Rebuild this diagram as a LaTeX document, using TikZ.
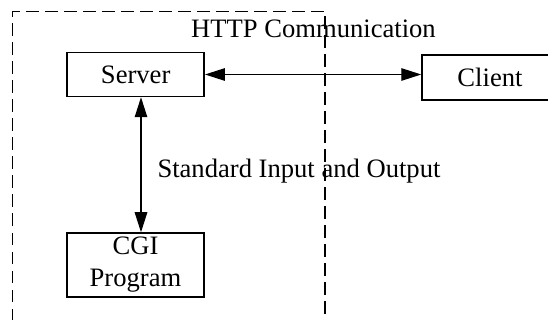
\documentclass[tikz,border=0pt]{standalone}
\usepackage{fontspec}
\setmainfont{Liberation Serif}
\usetikzlibrary{arrows.meta}
\tikzset{
  box/.style={draw, line width=1.5pt, inner sep=0pt, minimum width=137pt, align=center},
  zone/.style={draw, line width=1.5pt, dash pattern=on 12.5pt off 6.5pt},
  link/.style={line width=1.3pt, {Triangle[length=20pt,width=12.5pt]}-{Triangle[length=20pt,width=12.5pt]}},
  lbl/.style={inner sep=0pt, anchor=base west}
}
\begin{document}
\begin{tikzpicture}[x=1pt, y=-1pt, font=\fontsize{26.6}{32}\selectfont]
  \useasboundingbox (0,0) rectangle (548,320);
  \clip (0,0) rectangle (548,320);

  % web server zone (open towards the bottom)
  \draw[zone] (12.7,340) -- (12.7,11.3) -- (325,11.3) -- (325,340);

  % components
  \node[box, minimum height=44pt] (srv) at (135.7,74.5) {Server};
  \node[box, minimum width=136pt, minimum height=45pt] (cli) at (490,77.5) {Client};
  \node[box, minimum height=64pt] (cgi) at (135.5,265) {CGI\\Program};

  % captions
  \node[lbl] (http) at (191,37.7) {HTTP Communication};
  \node[lbl] (stdio) at (157.3,177.3) {Standard Input and Output};

  % connectors
  \coordinate (vx) at (141,0);
  \draw[link] (srv.east) -- (srv.east -| cli.west);
  \draw[link] (vx |- srv.south) -- (vx |- cgi.north);
\end{tikzpicture}
\end{document}
